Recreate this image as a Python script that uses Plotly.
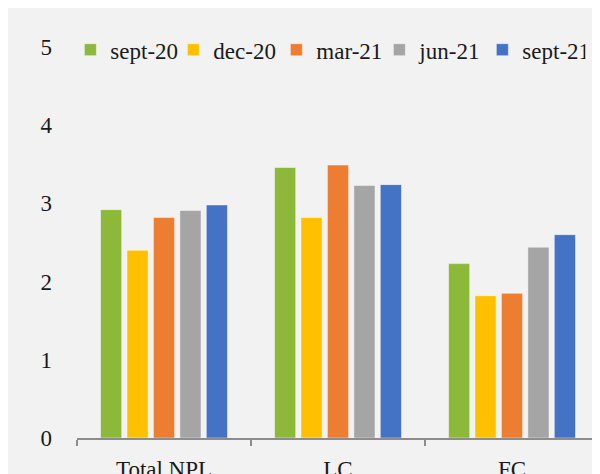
import plotly.graph_objects as go

categories = ["Total NPL", "LC", "FC"]
series_names = ["sept-20", "dec-20", "mar-21", "jun-21", "sept-21"]
sept20 = [2.92, 3.46, 2.23]
dec20 = [2.40, 2.82, 1.82]
mar21 = [2.82, 3.49, 1.85]
jun21 = [2.91, 3.23, 2.44]
sept21 = [2.98, 3.24, 2.60]
values = [sept20, dec20, mar21, jun21, sept21]
colors = ["#8DB93B", "#FFC000", "#ED7D31", "#A5A5A5", "#4472C4"]
y_ticks = [0, 1, 2, 3, 4, 5]

FONT = "Liberation Serif"
TXT = "#1a1a1a"
FS = 23

fig = go.Figure()
for name, vals, col in zip(series_names, values, colors):
    fig.add_trace(go.Bar(
        x=categories, y=vals, name=name,
        marker=dict(color=col, line=dict(color="rgba(255,255,255,0.45)", width=1)),
    ))

# the page body adds an 8px white margin, which matches the reference's white edge
W, H = 592, 466
ml, mr, mt, mb = 69, 1, 39, 36

fig.update_layout(
    width=W, height=H,
    margin=dict(l=ml, r=mr, t=mt, b=mb, pad=0, autoexpand=False),
    paper_bgcolor="#F2F2F2",
    plot_bgcolor="#F2F2F2",
    barmode="group",
    bargap=0.24,
    bargroupgap=0.2,
    font=dict(family=FONT, size=FS, color=TXT),
    showlegend=True,
    legend=dict(
        orientation="h", x=-0.0127, xanchor="left", y=1.048, yanchor="top",
        bgcolor="rgba(0,0,0,0)", font=dict(family=FONT, size=FS, color=TXT),
        itemwidth=30, tracegroupgap=0, entrywidth=58, entrywidthmode="pixels",
    ),
    xaxis=dict(
        type="category", range=[-0.5, 2.5],
        showline=True, linecolor="#8C8C8C", linewidth=2,
        ticks="outside", tickson="boundaries", ticklen=6, tickwidth=2, tickcolor="#8C8C8C",
        ticklabelstandoff=9,
        tickfont=dict(family=FONT, size=FS, color=TXT),
        showgrid=False, zeroline=False,
    ),
    yaxis=dict(
        range=[0, 5], tickvals=y_ticks, ticktext=[str(t) for t in y_ticks],
        showgrid=False, zeroline=False, showline=False,
        ticks="", ticklabelstandoff=24,
        tickfont=dict(family=FONT, size=FS, color=TXT),
    ),
)

fig.write_html("out.html")
